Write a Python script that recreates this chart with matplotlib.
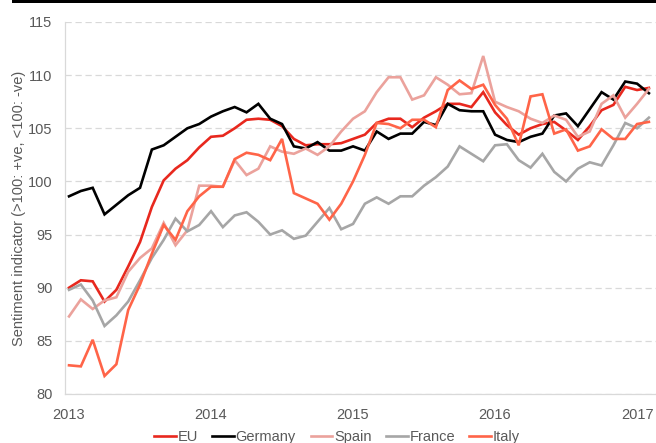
import numpy as np
import matplotlib
matplotlib.use("Agg")
import matplotlib.pyplot as plt
from matplotlib.patches import Rectangle

plt.rcParams["font.family"] = ["Liberation Sans", "DejaVu Sans"]

# ── Data (monthly, Jan 2013 – Feb 2017) ─────────────────────────────────────
years = ["2013", "2014", "2015", "2016", "2017"]

eu = [90.0, 90.7, 90.6, 88.7, 89.8, 92.0, 94.3, 97.6, 100.1, 101.2,
      102.0, 103.2, 104.2, 104.3, 105.0, 105.8, 105.9, 105.8, 105.2, 104.0,
      103.4, 103.5, 103.5, 103.6, 104.0, 104.4, 105.5, 105.9, 105.9, 105.1,
      106.0, 106.6, 107.3, 107.3, 107.0, 108.4, 106.5, 105.3, 104.4, 105.0,
      105.4, 105.6, 104.8, 103.9, 105.2, 106.7, 107.2, 108.9, 108.6, 108.8]

germany = [98.6, 99.1, 99.4, 96.9, 97.8, 98.7, 99.4, 103.0, 103.4, 104.2,
           105.0, 105.4, 106.1, 106.6, 107.0, 106.5, 107.3, 105.9, 105.4, 103.3,
           103.1, 103.7, 102.9, 102.9, 103.3, 102.9, 104.7, 104.0, 104.5, 104.5,
           105.6, 105.3, 107.3, 106.7, 106.6, 106.6, 104.4, 103.9, 103.7, 104.2,
           104.5, 106.2, 106.4, 105.2, 106.8, 108.4, 107.7, 109.4, 109.2, 108.3]

spain = [87.3, 88.9, 88.0, 88.8, 89.1, 91.5, 92.8, 93.7, 96.1, 94.0,
         95.4, 99.6, 99.6, 99.5, 102.0, 100.6, 101.2, 103.3, 102.8, 102.6,
         103.1, 102.5, 103.3, 104.7, 105.9, 106.6, 108.4, 109.8, 109.8, 107.7,
         108.1, 109.8, 109.1, 108.2, 108.3, 111.8, 107.5, 107.0, 106.6, 105.9,
         105.5, 106.2, 105.8, 104.2, 104.7, 107.3, 108.1, 106.0, 107.3, 108.7]

france = [89.8, 90.3, 88.8, 86.4, 87.4, 88.7, 90.7, 92.8, 94.5, 96.5,
          95.3, 95.9, 97.2, 95.7, 96.8, 97.1, 96.2, 95.0, 95.4, 94.6,
          94.9, 96.2, 97.5, 95.5, 96.0, 97.9, 98.5, 97.9, 98.6, 98.6,
          99.6, 100.4, 101.4, 103.3, 102.6, 101.9, 103.4, 103.5, 102.0, 101.3,
          102.6, 100.9, 100.0, 101.2, 101.8, 101.5, 103.4, 105.5, 105.0, 106.0]

italy = [82.7, 82.6, 85.1, 81.7, 82.8, 87.9, 90.3, 93.2, 95.9, 94.5,
         97.2, 98.6, 99.5, 99.5, 102.1, 102.7, 102.5, 102.0, 104.0, 98.9,
         98.4, 97.9, 96.4, 97.9, 100.0, 102.5, 105.5, 105.4, 105.0, 105.8,
         105.8, 105.1, 108.6, 109.5, 108.7, 109.1, 107.2, 105.9, 103.4, 108.0,
         108.2, 104.5, 104.9, 102.9, 103.3, 104.9, 104.0, 104.0, 105.4, 105.6]

series = [
    ("EU", eu, "#e8281e"),
    ("Germany", germany, "#000000"),
    ("Spain", spain, "#eba29c"),
    ("France", france, "#a6a6a6"),
    ("Italy", italy, "#ff6448"),
]

# ── Plot ─────────────────────────────────────────────────────────────────────
fig = plt.figure(figsize=(6.56, 4.43), dpi=100)
ax = fig.add_axes([65 / 656, 1 - 394 / 443, 1 - 65 / 656, (394 - 22) / 443])

idx = np.arange(len(eu))
for label, vals, color in series:
    ax.plot(idx, vals, color=color, linewidth=1.9, label=label,
            solid_joinstyle="miter")

ax.set_xlim(-0.34, 49.6)
ax.set_ylim(80, 115)
ax.set_yticks(np.arange(80, 116, 5))
ax.set_xticks(np.arange(0, len(eu), 12))
ax.set_xticklabels(years)
ax.tick_params(axis="both", length=0, labelsize=10.5, colors="#595959")
ax.tick_params(axis="x", pad=10)
ax.tick_params(axis="y", pad=9)

ax.grid(axis="y", color="#d9d9d9", linestyle=(0, (5, 3)), linewidth=0.9)
ax.set_axisbelow(True)
for side in ["top", "right"]:
    ax.spines[side].set_visible(False)
for side in ["left", "bottom"]:
    ax.spines[side].set_color("#d9d9d9")
    ax.spines[side].set_linewidth(0.9)

ax.set_ylabel("Sentiment indicator (>100: +ve, <100: -ve)", fontsize=10.5,
              color="#595959", labelpad=1)

fig.legend(loc="center", bbox_to_anchor=(337 / 656, 1 - 437 / 443), ncol=5,
           frameon=False, fontsize=10.5, handlelength=1.5, handletextpad=0.1,
           columnspacing=1.0, labelcolor="#595959")

# thick black rule across the top
fig.add_artist(Rectangle((12 / 656, 1 - 3 / 443), 1, 3 / 443,
                         transform=fig.transFigure, color="black", lw=0))

fig.savefig("out.png", dpi=100)
